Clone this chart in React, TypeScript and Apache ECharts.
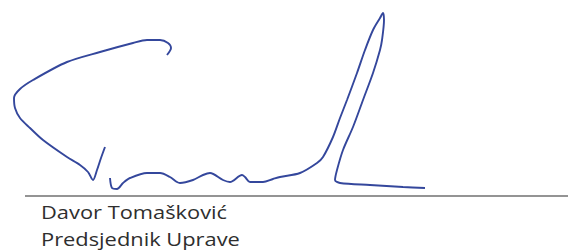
import React, { useEffect, useRef } from "react";
import * as echarts from "echarts";

// Signature strokes as [x, y] points in picture units (y grows downward)
const strokeOne: [number, number][] = [
  [167, 55], [171, 48], [168, 43], [160, 40], [147, 40], [133, 43], [100, 52],
  [67, 62], [33, 80], [20, 89], [14, 98], [15, 108], [20, 118], [30, 128],
  [43, 140], [67, 157], [80, 165], [88, 172], [93, 180], [97, 170], [101, 158], [105, 147],
];
const strokeTwo: [number, number][] = [
  [110, 178], [112, 188], [117, 189], [123, 183], [130, 178], [147, 173], [160, 173],
  [170, 177], [177, 182], [180, 183], [193, 180], [203, 175], [210, 173], [223, 180],
  [230, 182], [242, 175], [245, 177], [250, 182], [263, 182], [273, 179], [280, 177],
  [300, 173], [317, 163], [323, 157], [333, 137], [340, 118], [347, 100], [357, 73],
  [365, 50], [373, 30], [380, 18], [383, 13], [384, 20], [382, 40], [380, 50],
  [373, 73], [363, 100], [353, 127], [343, 150], [337, 170], [335, 180], [340, 183],
  [370, 185], [403, 187], [425, 188],
];
const ruleLine: [number, number][] = [[25, 196], [568, 196]];
const nameLines: string[] = ["Davor Tomašković", "Predsjednik Uprave"];

export default function App() {
  const ref = useRef<HTMLDivElement>(null);
  useEffect(() => {
    if (!ref.current) return;
    const chart = echarts.init(ref.current, undefined, { renderer: "svg" });
    const ink = "#34479c";
    chart.setOption({
      animation: false,
      backgroundColor: "#ffffff",
      grid: { left: 0, right: 0, top: 0, bottom: 0 },
      xAxis: { type: "value", min: 0, max: 568, show: false },
      yAxis: { type: "value", min: 0, max: 251, inverse: true, show: false },
      series: [
        {
          type: "line", data: strokeOne, smooth: 0.3, symbol: "none",
          lineStyle: { color: ink, width: 1.9 },
        },
        {
          type: "line", data: strokeTwo, smooth: 0.3, symbol: "none",
          lineStyle: { color: ink, width: 1.9 },
        },
        {
          type: "line", data: ruleLine, symbol: "none",
          lineStyle: { color: "#707070", width: 1.5 },
        },
      ],
      graphic: nameLines.map((t, i) => ({
        type: "text",
        x: 41,
        y: 202 + i * 27,
        scaleX: 1.15,
        style: {
          text: t,
          font: "19px 'Open Sans'",
          fill: "#2e2e2e",
          verticalAlign: "top",
        },
      })),
    });
    return () => chart.dispose();
  }, []);
  return (
    <div
      ref={ref}
      style={{ position: "fixed", left: 0, top: 0, width: 568, height: 251 }}
    />
  );
}
